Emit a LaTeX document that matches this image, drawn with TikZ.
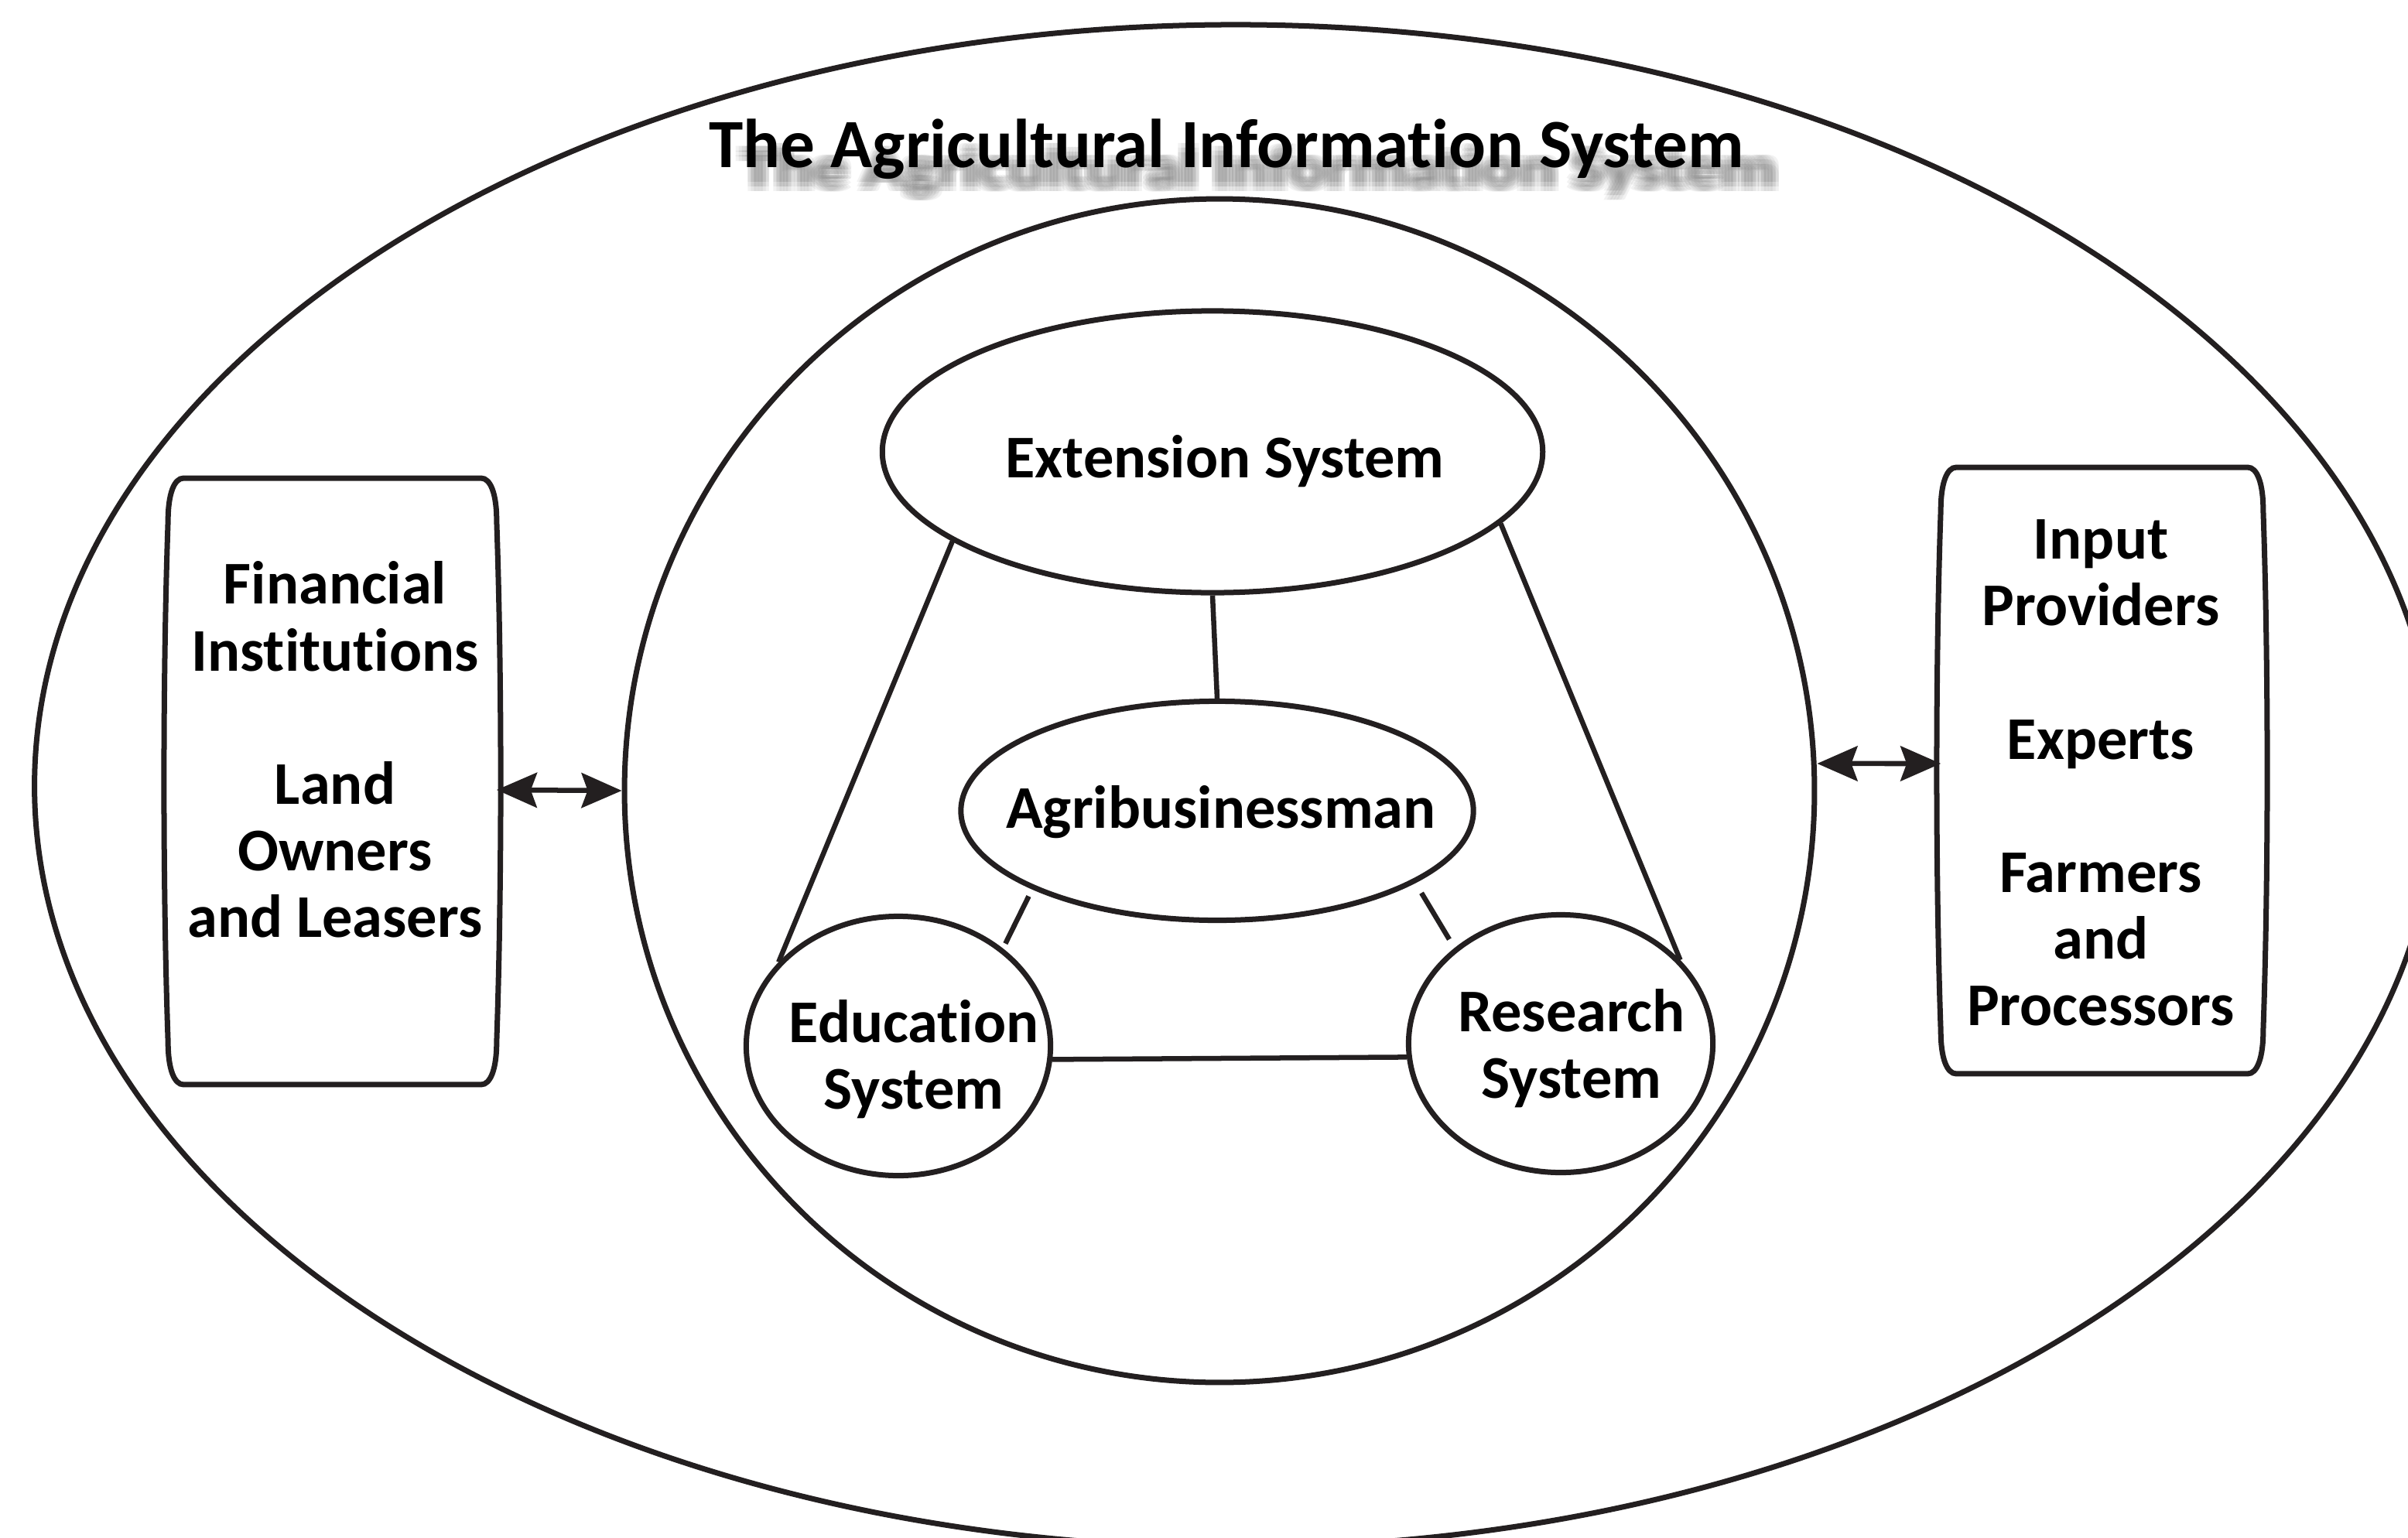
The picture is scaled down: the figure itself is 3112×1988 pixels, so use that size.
\documentclass[tikz,border=0pt]{standalone}
\usepackage{fontspec}
\setmainfont{Carlito}[Ligatures=CommonOff]
\usetikzlibrary{shapes.geometric,arrows.meta,calc}
\definecolor{ink}{HTML}{231F20}
\newcommand\barrelbox[1]{%
  \draw[ln] ($(#1.north west)+(20,0)$) -- ($(#1.north east)+(-20,0)$)
    .. controls +(12,0) and +(0,-35) .. ($(#1.north east)+(0,55)$)
    .. controls +(7,200) and +(7,-200) .. ($(#1.south east)+(0,-55)$)
    .. controls +(0,35) and +(12,0) .. ($(#1.south east)+(-20,0)$)
    -- ($(#1.south west)+(20,0)$)
    .. controls +(-12,0) and +(0,35) .. ($(#1.south west)+(0,-55)$)
    .. controls +(-7,-200) and +(-7,200) .. ($(#1.north west)+(0,55)$)
    .. controls +(0,-35) and +(-12,0) .. cycle;}
\begin{document}
\begin{tikzpicture}[x=0.01cm, y=-0.01cm,
  ln/.style={draw=ink, line width=0.7mm},
  ell/.style={ln, ellipse, inner sep=0pt},
  lbl/.style={font=\bfseries\fontsize{22.3}{24.5}\selectfont, align=center, text=black, inner sep=0pt},
  conn/.style={draw=ink, line width=0.65mm},
  biarrow/.style={draw=ink, line width=0.65mm,
    {Stealth[length=0.52cm,width=0.45cm,inset=0.08cm]}-{Stealth[length=0.52cm,width=0.45cm,inset=0.08cm]}},
  shade/.style={font=\bfseries\fontsize{25.4}{30}\selectfont, text=black!55, text opacity=0.09, inner sep=0pt},
  ]
\useasboundingbox (0,0) rectangle (3112,1988);
\fill[white] (0,0) rectangle (3112,1988);
\clip (0,0) rectangle (3112,1988);

% ellipses
\node[ell, minimum width=31.03cm, minimum height=19.67cm] (outer) at (1597,1016) {};
\node[ell, minimum width=15.37cm, minimum height=15.29cm] (inner) at (1576,1022) {};
\node[ell, minimum width=8.53cm, minimum height=3.64cm] (ext) at (1567,584) {};
\node[ell, minimum width=6.62cm, minimum height=2.83cm] (agri) at (1573,1048) {};
\node[ell, minimum width=3.93cm, minimum height=3.35cm] (edu) at (1161,1352) {};
\node[ell, minimum width=3.93cm, minimum height=3.33cm] (res) at (2017,1349) {};

% title with soft shadow
\foreach \dx in {-8,-4,0,4,8}{
  \foreach \dy in {-6,0,6}{
    \node[shade] at (1627+\dx,222+\dy) {\scalebox{1}[0.8]{The Agricultural Information System}};
  }
}
\node[font=\bfseries\fontsize{25.4}{30}\selectfont, inner sep=0pt] (title) at (1585,193) {The Agricultural Information System};

% side boxes
\node[rectangle, inner sep=0pt, minimum width=4.23cm, minimum height=7.82cm] (fin) at (429.5,1010) {};
\node[rectangle, inner sep=0pt, minimum width=4.15cm, minimum height=7.82cm] (inp) at (2716.5,996) {};
\barrelbox{fin}
\barrelbox{inp}
\node[lbl] (finT) at (433,969) {Financial\\Institutions\\[24.5pt]Land\\Owners\\and Leasers};
\node[lbl] (inpT) at (2715,999) {Input\\Providers\\[24.5pt]Experts\\[24.5pt]Farmers\\and\\Processors};

% labels
\node[lbl] (extT) at (1583,596) {Extension System};
\node[lbl] (agriT) at (1578,1050) {Agribusinessman};
\node[lbl] (eduT) at (1181,1369) {Education\\System};
\node[lbl] (resT) at (2031,1355) {Research\\System};

% connectors
\draw[conn] (ext.199) -- (edu.145);
\draw[conn] (ext.-14.5) -- (res.35);
\draw[conn] (ext.south) -- (agri.north);
\draw[conn, shorten <=0.1cm, shorten >=0.07cm] (agri.203) -- (edu.43);
\draw[conn, shorten <=0.15cm, shorten >=0.13cm] (agri.-20) -- (res.138);
\draw[conn] (edu.-5) -- (res.185);

% arrows
\draw[biarrow] ([yshift=-0.11cm]fin.east) -- (inner.west);
\draw[biarrow] ([yshift=0.35cm]inner.east) -- ([yshift=0.09cm]inp.west);
\end{tikzpicture}
\end{document}
